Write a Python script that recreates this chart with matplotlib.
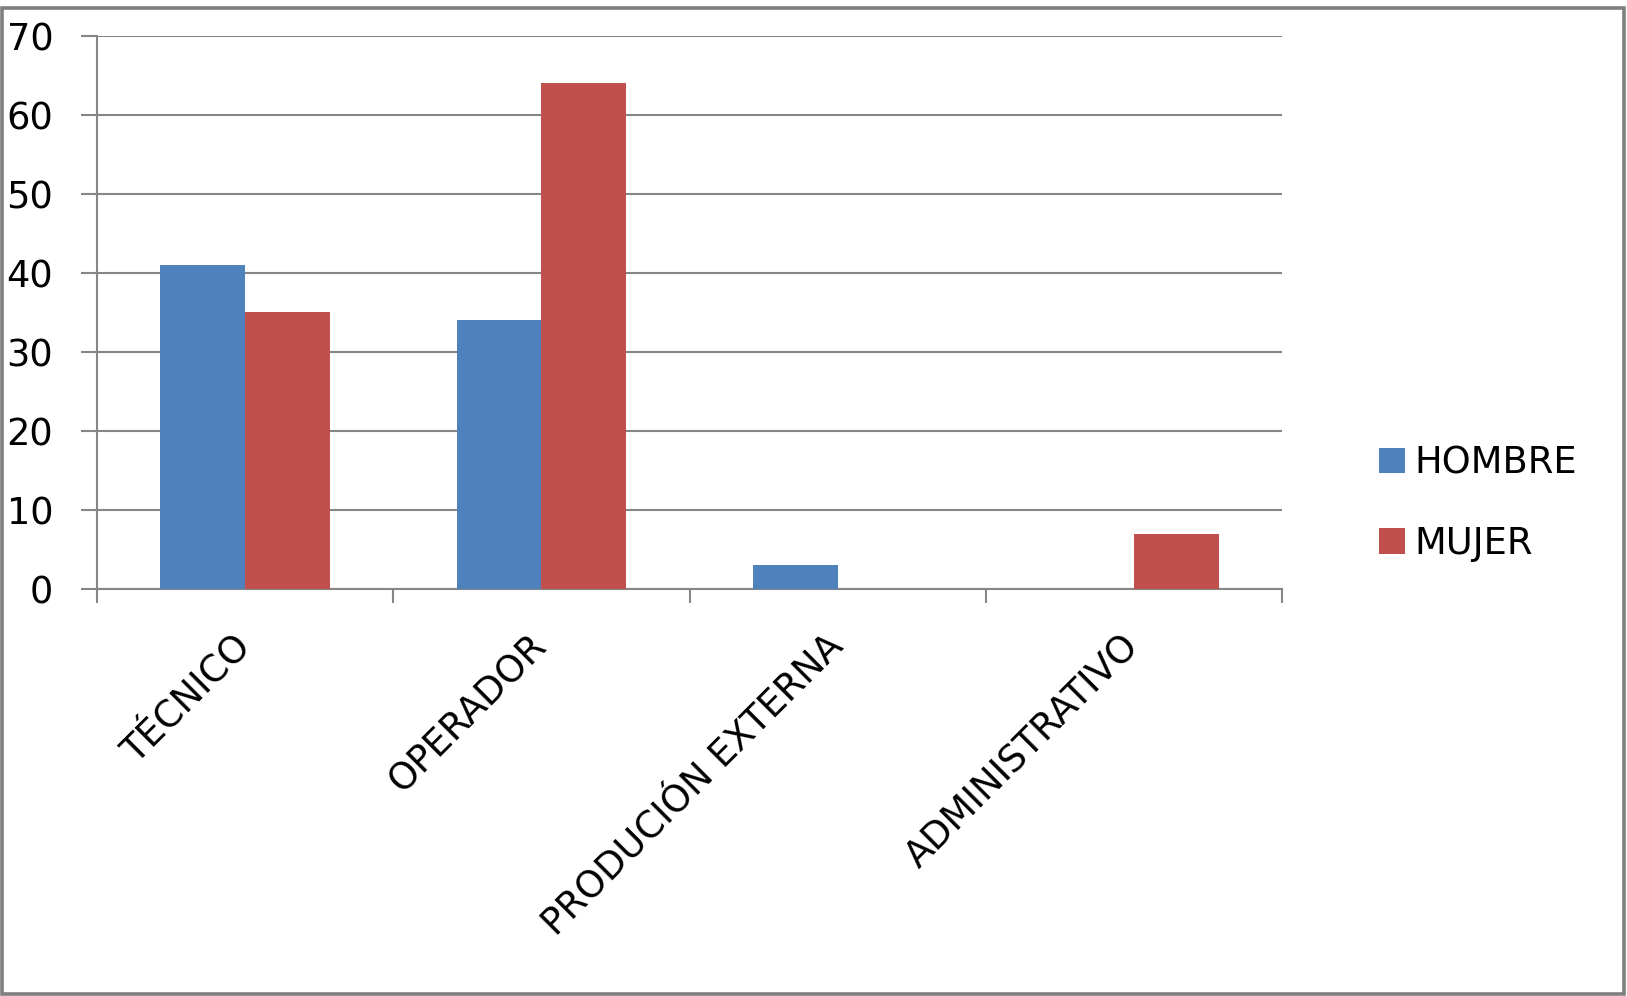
import matplotlib
matplotlib.use('Agg')
import matplotlib.pyplot as plt
import numpy as np
from matplotlib.patches import Rectangle

# Datos del gráfico
categorias = ['TÉCNICO', 'OPERADOR', 'PRODUCIÓN EXTERNA', 'ADMINISTRATIVO']
hombre = [41, 34, 3, 0]
mujer = [35, 64, 0, 7]
series = ['HOMBRE', 'MUJER']
y_ticks = [0, 10, 20, 30, 40, 50, 60, 70]

azul = '#4F81BD'
rojo = '#C0504D'
gris = '#868686'

W, H = 1627, 996
fig = plt.figure(figsize=(W / 100, H / 100), dpi=100)
ax = fig.add_axes([97 / W, 1 - 589 / H, (1282 - 97) / W, (589 - 36) / H])

# Borde exterior del gráfico
fig.patches.append(Rectangle((2 / W, 2.5 / H), (1624 - 2) / W, (987.5 - 2.5) / H,
                             transform=fig.transFigure, fill=False,
                             edgecolor='#7f7f7f', linewidth=2.6))

x = np.arange(len(categorias))
ancho = 1 / 3.5  # gap 150%
ax.bar(x - ancho / 2, hombre, ancho, color=azul, label=series[0], zorder=3)
ax.bar(x + ancho / 2, mujer, ancho, color=rojo, label=series[1], zorder=3)

ax.set_xlim(-0.5, len(categorias) - 0.5)
ax.set_ylim(0, 70)

# Líneas de cuadrícula
ax.set_yticks(y_ticks)
ax.set_yticklabels([str(v) for v in y_ticks], fontsize=26.5)
ax.yaxis.grid(True, color=gris, linewidth=1.5, zorder=0)
ax.set_axisbelow(True)

# Marcas en los límites de categoría, etiquetas en el centro
ax.set_xticks(x)
ax.set_xticklabels(categorias, fontsize=26.5, rotation=45, ha='right', va='center',
                   rotation_mode='anchor')
ax.set_xticks(np.arange(len(categorias) + 1) - 0.5, minor=True)
ax.tick_params(axis='x', which='major', length=0, pad=37)
ax.tick_params(axis='x', which='minor', length=10, width=1.5, color=gris, direction='out')
ax.tick_params(axis='y', length=11.5, width=1.5, color=gris, pad=20)

for s in ['top', 'right']:
    ax.spines[s].set_visible(False)
for s in ['left', 'bottom']:
    ax.spines[s].set_color(gris)
    ax.spines[s].set_linewidth(1.5)

leg = ax.legend(loc='center left', bbox_to_anchor=(1379 / W, 1 - 503 / H),
                bbox_transform=fig.transFigure, frameon=False, fontsize=26.5,
                handlelength=0.7, handleheight=0.7, handletextpad=0.25,
                labelspacing=1.17, borderpad=0, borderaxespad=0)

fig.savefig('out.png', dpi=100, facecolor='white')
